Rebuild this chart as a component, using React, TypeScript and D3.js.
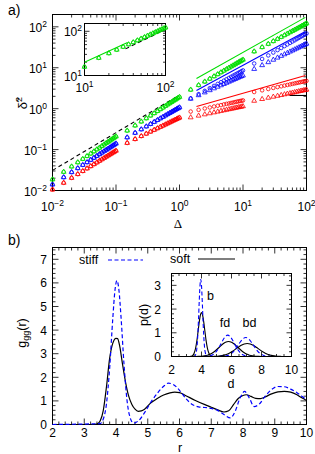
import React, { useEffect, useRef } from 'react';
import * as d3 from 'd3';

// ---------- panel a): lag times of the four runs ----------
const lagRun1 = [0.01, 0.015, 0.02, 0.025, 0.03, 0.035, 0.04, 0.045, 0.05, 0.055, 0.06, 0.065, 0.07, 0.075, 0.08, 0.085, 0.09, 0.095, 0.1];
const lagRun2 = [0.15, 0.2, 0.25, 0.3, 0.35, 0.4, 0.45, 0.5, 0.55, 0.6, 0.65, 0.7, 0.75, 0.8, 0.85, 0.9, 0.95, 1.0];
const lagRun3 = [1.5, 2, 2.5, 3, 3.5, 4, 4.5, 5, 5.5, 6, 6.5, 7, 7.5, 8, 8.5, 9, 9.5, 10];
const lagRun4 = [15, 20, 25, 30, 35, 40, 45, 50, 55, 60, 65, 70, 75, 80, 85, 90, 95, 100];

// green
const greenRun1 = [0.0186, 0.0285, 0.0385, 0.0487, 0.0589, 0.0693, 0.0797, 0.0902, 0.101, 0.111, 0.122, 0.133, 0.144, 0.154, 0.165, 0.176, 0.187, 0.198, 0.209];
const greenRun2 = [0.29, 0.387, 0.483, 0.58, 0.677, 0.773, 0.87, 0.967, 1.06, 1.16, 1.26, 1.35, 1.45, 1.55, 1.64, 1.74, 1.84, 1.93];
const greenRun3 = [2.9, 3.75, 4.57, 5.37, 6.17, 6.94, 7.71, 8.47, 9.22, 9.96, 10.7, 11.4, 12.1, 12.9, 13.6, 14.3, 15.0, 15.7];
const greenRun4 = [25, 31.8, 38.2, 44.5, 50.5, 56.4, 62.2, 67.9, 73.5, 79.0, 84.4, 89.8, 95.1, 100, 106, 111, 116, 121];

// blue
const blueRun1 = [0.014, 0.021, 0.028, 0.035, 0.042, 0.049, 0.056, 0.063, 0.07, 0.077, 0.084, 0.091, 0.098, 0.105, 0.112, 0.119, 0.126, 0.133, 0.14];
const blueRun2 = [0.198, 0.256, 0.312, 0.367, 0.421, 0.474, 0.526, 0.578, 0.629, 0.68, 0.73, 0.78, 0.829, 0.879, 0.927, 0.976, 1.02, 1.07];
const blueCircRun3 = [1.78, 2.26, 2.72, 3.16, 3.6, 4.02, 4.43, 4.83, 5.23, 5.62, 6.01, 6.39, 6.77, 7.14, 7.51, 7.88, 8.24, 8.6];
const blueTriRun3 = [1.74, 2.12, 2.48, 2.81, 3.12, 3.42, 3.71, 3.99, 4.26, 4.53, 4.79, 5.04, 5.28, 5.52, 5.76, 5.99, 6.22, 6.44];
const blueCircRun4 = [12.7, 16.4, 20.0, 23.5, 27.0, 30.4, 33.8, 37.1, 40.4, 43.6, 46.8, 50.0, 53.2, 56.4, 59.5, 62.6, 65.7, 68.7];
const blueTriRun4 = [9.3, 11.5, 13.6, 15.6, 17.6, 19.4, 21.2, 22.9, 24.7, 26.3, 27.9, 29.5, 31.1, 32.6, 34.2, 35.7, 37.1, 38.6];

// red
const redRun1 = [0.0105, 0.0154, 0.0203, 0.0251, 0.0298, 0.0345, 0.0392, 0.0438, 0.0484, 0.053, 0.0576, 0.0621, 0.0667, 0.0712, 0.0757, 0.0802, 0.0847, 0.0891, 0.0936];
const redRun2 = [0.145, 0.18, 0.213, 0.244, 0.274, 0.303, 0.331, 0.358, 0.384, 0.41, 0.435, 0.46, 0.485, 0.509, 0.533, 0.556, 0.579, 0.602];
const redCircRun3 = [0.85, 0.935, 1.01, 1.07, 1.13, 1.18, 1.22, 1.27, 1.31, 1.34, 1.38, 1.41, 1.45, 1.48, 1.51, 1.54, 1.56, 1.59];
const redTriRun3 = [0.61, 0.671, 0.722, 0.767, 0.807, 0.843, 0.877, 0.908, 0.936, 0.964, 0.989, 1.01, 1.04, 1.06, 1.08, 1.1, 1.12, 1.14];
const redCircRun4 = [2.55, 2.81, 3.02, 3.21, 3.37, 3.52, 3.66, 3.79, 3.91, 4.03, 4.14, 4.24, 4.34, 4.43, 4.52, 4.61, 4.69, 4.77];
const redTriRun4 = [1.55, 1.71, 1.84, 1.95, 2.05, 2.14, 2.23, 2.31, 2.38, 2.45, 2.51, 2.58, 2.64, 2.69, 2.75, 2.8, 2.85, 2.9];

// guide lines in panel a)
const fitLag = [1.85, 96];
const greenFit = [5.47, 170];
const blueFit = [2.79, 77];
const redFit = [1.13, 6.46];
const ballisticLag = [0.01, 0.87];
const ballistic = [0.031, 1.9];
const plateauLag = [54, 100];
const plateau = [2.1, 2.1];
const insetFitLag = [10, 34];
const insetFit = [20, 56];
const insetDashLag = [32, 100];
const insetDash = [40, 110];

const msdExponents = [-2, -1, 0, 1, 2];
const insetExponents = [1, 2];

// ---------- panel b): pair correlation ----------
const stiffR = [2, 3.5, 3.6, 3.7, 3.8, 3.9, 3.97, 4.03, 4.09, 4.16, 4.25, 4.35, 4.45, 4.55, 4.7, 4.9, 5.1, 5.3, 5.5, 5.65, 5.8, 6.0, 6.2, 6.4, 6.6, 6.8, 7.0, 7.2, 7.4, 7.6, 7.75, 7.9, 8.05, 8.2, 8.35, 8.5, 8.7, 8.9, 9.1, 9.3, 9.5, 9.7, 9.85, 10];
const stiffG = [0, 0.04, 0.23, 0.88, 2.39, 4.52, 5.72, 6.1, 5.72, 4.52, 2.59, 0.99, 0.27, 0.06, 0.15, 0.5, 0.95, 1.32, 1.62, 1.75, 1.7, 1.45, 1.1, 0.85, 0.75, 0.72, 0.68, 0.6, 0.42, 0.28, 0.55, 1.1, 1.4, 1.12, 0.76, 0.85, 1.2, 1.48, 1.61, 1.6, 1.5, 1.35, 1.2, 1.05];
const softR = [2, 3.3, 3.4, 3.5, 3.6, 3.7, 3.8, 3.9, 4.0, 4.05, 4.12, 4.2, 4.3, 4.4, 4.5, 4.6, 4.7, 4.8, 4.9, 5.1, 5.3, 5.5, 5.7, 5.85, 6.0, 6.2, 6.5, 6.8, 7.0, 7.2, 7.4, 7.55, 7.7, 7.85, 8.0, 8.1, 8.25, 8.4, 8.55, 8.7, 8.9, 9.1, 9.3, 9.5, 9.7, 9.85, 10];
const softG = [0, 0, 0.02, 0.15, 0.6, 1.6, 2.8, 3.45, 3.65, 3.64, 3.3, 2.6, 1.8, 1.2, 0.85, 0.65, 0.56, 0.58, 0.65, 0.92, 1.1, 1.25, 1.34, 1.37, 1.35, 1.22, 1.02, 0.84, 0.73, 0.62, 0.53, 0.58, 0.84, 1.1, 1.23, 1.26, 1.19, 1.11, 1.1, 1.17, 1.3, 1.38, 1.4, 1.37, 1.26, 1.13, 1.02];

// inset: bond length distributions
const bStiffD = [3.45, 3.55, 3.65, 3.7, 3.75, 3.8, 3.85, 3.9, 3.95, 4.0, 4.05, 4.1, 4.15, 4.2, 4.25, 4.35, 4.45];
const bStiffP = [0, 0.016, 0.17, 0.41, 0.87, 1.55, 2.34, 2.99, 3.25, 2.99, 2.34, 1.55, 0.87, 0.41, 0.17, 0.016, 0];
const fdStiffD = [4.15, 4.35, 4.55, 4.75, 4.95, 5.15, 5.35, 5.55, 5.75, 5.95, 6.15, 6.35, 6.55, 6.75, 6.95, 7.15, 7.35];
const fdStiffP = [0, 0.006, 0.023, 0.07, 0.18, 0.36, 0.6, 0.81, 0.9, 0.81, 0.6, 0.36, 0.18, 0.07, 0.023, 0.006, 0];
const bdStiffD = [5.15, 5.35, 5.55, 5.75, 5.95, 6.15, 6.35, 6.55, 6.75, 6.95, 7.15, 7.35, 7.55, 7.75, 7.95, 8.15, 8.35, 8.55, 8.75];
const bdStiffP = [0, 0.005, 0.016, 0.045, 0.11, 0.22, 0.39, 0.58, 0.74, 0.8, 0.74, 0.58, 0.39, 0.22, 0.11, 0.045, 0.016, 0.005, 0];
const bSoftD = [3.2, 3.3, 3.4, 3.5, 3.6, 3.65, 3.7, 3.75, 3.8, 3.85, 3.9, 3.95, 4.0, 4.05, 4.1, 4.15, 4.2, 4.25, 4.3, 4.35, 4.4, 4.5, 4.6, 4.7, 4.8];
const bSoftP = [0, 0.01, 0.039, 0.127, 0.33, 0.5, 0.7, 0.95, 1.2, 1.45, 1.66, 1.8, 1.85, 1.8, 1.66, 1.45, 1.2, 0.95, 0.7, 0.5, 0.33, 0.127, 0.039, 0.01, 0];
const fdSoftD = [3.6, 3.8, 4.0, 4.2, 4.4, 4.6, 4.8, 5.0, 5.2, 5.4, 5.6, 5.8, 6.0, 6.2, 6.4, 6.6, 6.8, 7.0, 7.2, 7.4, 7.6, 7.8, 8.0];
const fdSoftP = [0, 0.004, 0.011, 0.026, 0.055, 0.104, 0.181, 0.283, 0.4, 0.516, 0.6, 0.63, 0.6, 0.516, 0.4, 0.283, 0.181, 0.104, 0.055, 0.026, 0.011, 0.004, 0];
const bdSoftD = [4.65, 4.85, 5.05, 5.25, 5.45, 5.65, 5.85, 6.05, 6.25, 6.45, 6.65, 6.85, 7.05, 7.25, 7.45, 7.65, 7.85, 8.05, 8.25, 8.45, 8.65, 8.85, 9.05, 9.25, 9.45];
const bdSoftP = [0, 0.006, 0.012, 0.025, 0.048, 0.085, 0.14, 0.21, 0.3, 0.39, 0.47, 0.53, 0.55, 0.53, 0.47, 0.39, 0.3, 0.21, 0.14, 0.085, 0.048, 0.025, 0.012, 0.006, 0];

const gTicksX = [2, 3, 4, 5, 6, 7, 8, 9, 10];
const gTicksY = [0, 1, 2, 3, 4, 5, 6, 7];
const pTicksX = [2, 4, 6, 8, 10];
const pTicksY = [0, 1, 2, 3];

const W = 315;
const H = 454;
const FONT = "'Liberation Sans', Arial, Helvetica, sans-serif";
const GREEN = '#00dd00';
const BLUE = '#0000ff';
const RED = '#ff0000';

type Tick = { v: number; major: boolean };

function logTicks(scale: any): Tick[] {
  return scale.ticks().map((v: number) => {
    const l = Math.log10(v);
    return { v, major: Math.abs(l - Math.round(l)) < 1e-6 };
  });
}

function linTicks(lo: number, hi: number, step: number, majors: number[]): Tick[] {
  return d3.range(lo, hi + step / 2, step).map(v => ({
    v,
    major: majors.some(m => Math.abs(m - v) < 1e-6),
  }));
}

// box with inward ticks on all four sides
function frame(g: any, x: any, y: any, xt: Tick[], yt: Tick[], big: number, small: number) {
  const [x0, x1] = x.range();
  const [y0, y1] = y.range();
  xt.forEach(t => {
    const len = t.major ? big : small;
    const px = x(t.v);
    g.append('line').attr('x1', px).attr('x2', px).attr('y1', y0).attr('y2', y0 - len);
    g.append('line').attr('x1', px).attr('x2', px).attr('y1', y1).attr('y2', y1 + len);
  });
  yt.forEach(t => {
    const len = t.major ? big : small;
    const py = y(t.v);
    g.append('line').attr('x1', x0).attr('x2', x0 + len).attr('y1', py).attr('y2', py);
    g.append('line').attr('x1', x1).attr('x2', x1 - len).attr('y1', py).attr('y2', py);
  });
  g.selectAll('line').attr('stroke', '#000').attr('stroke-width', 0.8);
  g.append('rect')
    .attr('x', x0).attr('y', y1)
    .attr('width', x1 - x0).attr('height', y0 - y1)
    .attr('fill', 'none').attr('stroke', '#000').attr('stroke-width', 1);
}

function powLabel(g: any, px: number, py: number, exp: number, anchor: string) {
  const t = g.append('text').attr('x', px).attr('y', py)
    .attr('text-anchor', anchor).attr('font-size', 12);
  t.append('tspan').text('10');
  t.append('tspan').attr('dy', -5).attr('font-size', 8.5).text(String(exp).replace('-', '\u2212'));
}

function scatter(g: any, x: any, y: any, lags: number[], vals: number[], color: string, shape: string) {
  const pts = lags.map((l, i) => [l, vals[i]]).filter(d => x(d[0]) >= x.range()[0] - 1 && x(d[0]) <= x.range()[1] + 1);
  if (shape === 'circle') {
    g.append('g').selectAll('circle').data(pts).join('circle')
      .attr('cx', (d: number[]) => x(d[0])).attr('cy', (d: number[]) => y(d[1]))
      .attr('r', 1.8).attr('fill', 'none').attr('stroke', color).attr('stroke-width', 0.8);
  } else {
    const tri = d3.symbol().type(d3.symbolTriangle).size(10);
    g.append('g').selectAll('path').data(pts).join('path')
      .attr('d', tri as any)
      .attr('transform', (d: number[]) => `translate(${x(d[0])},${y(d[1])})`)
      .attr('fill', 'none').attr('stroke', color).attr('stroke-width', 0.8);
  }
}

function segment(g: any, x: any, y: any, xs: number[], ys: number[], color: string, dash?: string) {
  const line = d3.line<number>().x((_, i) => x(xs[i])).y(v => y(v));
  g.append('path').attr('d', line(ys)).attr('fill', 'none')
    .attr('stroke', color).attr('stroke-width', 1.1)
    .attr('stroke-dasharray', dash || null);
}

function drawPanelA(svg: any) {
  const g = svg.append('g');
  const x = d3.scaleLog().domain([0.01, 100]).range([52.5, 306.5]);
  const y = d3.scaleLog().domain([0.01, 200]).range([190.5, 14.5]);

  const lagAll = [...lagRun1, ...lagRun2, ...lagRun3, ...lagRun4];
  const greenCirc = [...greenRun1, ...greenRun2, ...greenRun3, ...greenRun4];
  const blueCirc = [...blueRun1, ...blueRun2, ...blueCircRun3, ...blueCircRun4];
  const blueTri = [...blueRun1, ...blueRun2, ...blueTriRun3, ...blueTriRun4];
  const redCirc = [...redRun1, ...redRun2, ...redCircRun3, ...redCircRun4];
  const redTri = [...redRun1, ...redRun2, ...redTriRun3, ...redTriRun4];

  frame(g.append('g'), x, y, logTicks(x), logTicks(y), 6, 3);

  segment(g, x, y, ballisticLag, ballistic, '#000', '4,3');
  segment(g, x, y, fitLag, redFit, RED);
  segment(g, x, y, fitLag, blueFit, BLUE);
  segment(g, x, y, fitLag, greenFit, GREEN);
  segment(g, x, y, plateauLag, plateau, '#000');

  scatter(g, x, y, lagAll, redTri, RED, 'tri');
  scatter(g, x, y, lagAll, redCirc, RED, 'circle');
  scatter(g, x, y, lagAll, blueTri, BLUE, 'tri');
  scatter(g, x, y, lagAll, blueCirc, BLUE, 'circle');
  scatter(g, x, y, lagAll, greenCirc, GREEN, 'tri');
  scatter(g, x, y, lagAll, greenCirc, GREEN, 'circle');

  msdExponents.forEach(e => {
    powLabel(g, x(Math.pow(10, e)), 211, e, 'middle');
    powLabel(g, 47, y(Math.pow(10, e)) + 5, e, 'end');
  });

  // inset: zoom on the green data
  const xi = d3.scaleLog().domain([10, 100]).range([84.5, 165.5]);
  const yi = d3.scaleLog().domain([10, 150]).range([75.5, 23.5]);
  const gi = g.append('g');
  gi.append('rect').attr('x', 84.5).attr('y', 23.5).attr('width', 81).attr('height', 52).attr('fill', '#fff');
  frame(gi.append('g'), xi, yi, logTicks(xi), logTicks(yi), 5, 2.5);
  segment(gi, xi, yi, insetFitLag, insetFit, GREEN);
  segment(gi, xi, yi, insetDashLag, insetDash, '#000', '4,3');
  scatter(gi, xi, yi, lagAll, greenCirc, GREEN, 'tri');
  scatter(gi, xi, yi, lagAll, greenCirc, GREEN, 'circle');
  insetExponents.forEach(e => {
    powLabel(gi, xi(Math.pow(10, e)), 92, e, 'middle');
    powLabel(gi, 82, yi(Math.pow(10, e)) + 5, e, 'end');
  });

  g.append('text').attr('x', 8).attr('y', 15).attr('font-size', 14).text('a)');
  g.append('text').attr('x', 178).attr('y', 228).attr('text-anchor', 'middle')
    .attr('font-size', 13).attr('font-family', "'Liberation Serif', serif").text('\u0394');
  const yl = g.append('text').attr('transform', 'translate(27,103) rotate(-90)')
    .attr('text-anchor', 'middle').attr('font-size', 13);
  yl.append('tspan').text('\u03b4\u0303');
  yl.append('tspan').attr('dy', -5).attr('font-size', 9).text('2');
}

function drawPanelB(svg: any) {
  const g = svg.append('g');
  const x = d3.scaleLinear().domain([2, 10]).range([52.5, 306.5]);
  const y = d3.scaleLinear().domain([0, 7.5]).range([424.5, 247.5]);
  frame(g.append('g'), x, y, linTicks(2, 10, 0.2, gTicksX), linTicks(0, 7.4, 0.2, gTicksY), 6, 3);

  const curve = (xs: number[], ys: number[], sx: any, sy: any) =>
    d3.line<number>().x((_, i) => sx(xs[i])).y(v => sy(v)).curve(d3.curveMonotoneX)(ys);

  g.append('path').attr('d', curve(softR, softG, x, y)).attr('fill', 'none')
    .attr('stroke', '#000').attr('stroke-width', 1.2);
  g.append('path').attr('d', curve(stiffR, stiffG, x, y)).attr('fill', 'none')
    .attr('stroke', BLUE).attr('stroke-width', 1.2).attr('stroke-dasharray', '4,2.5');

  gTicksX.forEach(v => g.append('text').attr('x', x(v)).attr('y', 437)
    .attr('text-anchor', 'middle').attr('font-size', 12).text(v));
  gTicksY.forEach(v => g.append('text').attr('x', 47).attr('y', y(v) + 4.5)
    .attr('text-anchor', 'end').attr('font-size', 12).text(v));

  // legend
  g.append('text').attr('x', 79).attr('y', 264).attr('font-size', 12.5).text('stiff');
  g.append('line').attr('x1', 108).attr('x2', 143).attr('y1', 260).attr('y2', 260)
    .attr('stroke', BLUE).attr('stroke-width', 1.2).attr('stroke-dasharray', '4,2.5');
  g.append('text').attr('x', 170).attr('y', 263).attr('font-size', 12.5).text('soft');
  g.append('line').attr('x1', 198).attr('x2', 235).attr('y1', 259).attr('y2', 259)
    .attr('stroke', '#000').attr('stroke-width', 1.2);

  // inset
  const xi = d3.scaleLinear().domain([2, 10]).range([171.5, 291.5]);
  const yi = d3.scaleLinear().domain([0, 3.5]).range([356.5, 273.5]);
  const gi = g.append('g');
  gi.append('rect').attr('x', 171.5).attr('y', 273.5).attr('width', 120).attr('height', 83).attr('fill', '#fff');
  [[bSoftD, bSoftP], [fdSoftD, fdSoftP], [bdSoftD, bdSoftP]].forEach(([d, p]) =>
    gi.append('path').attr('d', curve(d, p, xi, yi)).attr('fill', 'none')
      .attr('stroke', '#000').attr('stroke-width', 1.1));
  [[bStiffD, bStiffP], [fdStiffD, fdStiffP], [bdStiffD, bdStiffP]].forEach(([d, p]) =>
    gi.append('path').attr('d', curve(d, p, xi, yi)).attr('fill', 'none')
      .attr('stroke', BLUE).attr('stroke-width', 1.1).attr('stroke-dasharray', '4,2.5'));
  frame(gi.append('g'), xi, yi, linTicks(2, 10, 0.5, pTicksX), linTicks(0, 3.4, 0.2, pTicksY), 5, 2.5);

  pTicksX.forEach(v => gi.append('text').attr('x', xi(v)).attr('y', 374)
    .attr('text-anchor', 'middle').attr('font-size', 12).text(v));
  pTicksY.forEach(v => gi.append('text').attr('x', 161).attr('y', yi(v) + 4.5)
    .attr('text-anchor', 'end').attr('font-size', 12).text(v));

  gi.append('text').attr('x', 210.5).attr('y', 300).attr('text-anchor', 'middle').attr('font-size', 12.5).text('b');
  gi.append('text').attr('x', 225).attr('y', 327).attr('text-anchor', 'middle').attr('font-size', 12.5).text('fd');
  gi.append('text').attr('x', 249.5).attr('y', 327).attr('text-anchor', 'middle').attr('font-size', 12.5).text('bd');
  gi.append('text').attr('x', 231).attr('y', 388).attr('text-anchor', 'middle').attr('font-size', 12.5).text('d');
  gi.append('text').attr('transform', 'translate(148,315) rotate(-90)')
    .attr('text-anchor', 'middle').attr('font-size', 12.5).text('p(d)');

  g.append('text').attr('x', 8).attr('y', 245).attr('font-size', 14).text('b)');
  g.append('text').attr('x', 180).attr('y', 452).attr('text-anchor', 'middle').attr('font-size', 12.5).text('r');
  const yl = g.append('text').attr('transform', 'translate(26,333) rotate(-90)')
    .attr('text-anchor', 'middle').attr('font-size', 12.5);
  yl.append('tspan').text('g');
  yl.append('tspan').attr('dy', 3).attr('font-size', 9).text('gg');
  yl.append('tspan').attr('dy', -3).text('(r)');
}

export default function App() {
  const ref = useRef<SVGSVGElement>(null);

  useEffect(() => {
    const svg = d3.select(ref.current);
    svg.selectAll('*').remove();
    svg.attr('font-family', FONT);
    drawPanelA(svg);
    drawPanelB(svg);
  }, []);

  return (
    <svg ref={ref} width={W} height={H}
      style={{ position: 'absolute', left: 0, top: 0, background: '#fff' }} />
  );
}
